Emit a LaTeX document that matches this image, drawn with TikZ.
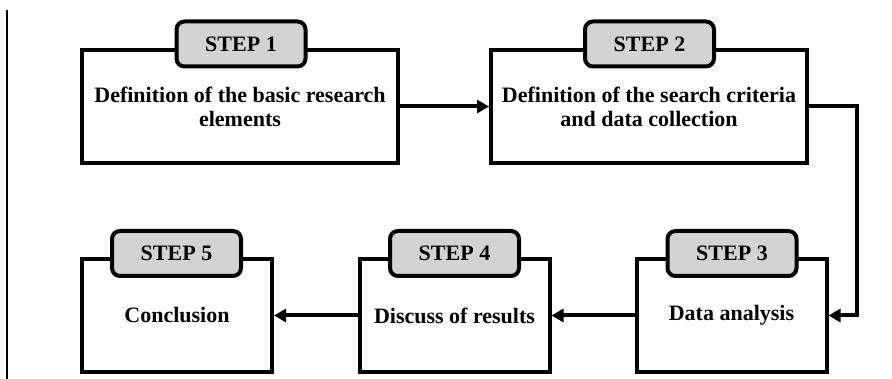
\documentclass[tikz,border=0pt]{standalone}
\usepackage{fontspec}
\setmainfont{Liberation Serif}
\usetikzlibrary{arrows.meta}
\definecolor{tabgray}{HTML}{D3D3D3}
\begin{document}
\begin{tikzpicture}[x=1pt,y=-1pt,
  stepbox/.style={draw=black, line width=4pt, fill=white, inner sep=0pt,
    minimum height=113pt, align=center,
    font=\fontsize{22}{24}\selectfont\bfseries},
  steptab/.style={draw=black, line width=4pt, fill=tabgray, rounded corners=8pt,
    inner sep=0pt, minimum width=129pt, minimum height=45pt,
    font=\fontsize{22}{24}\selectfont\bfseries},
  flow/.style={line width=4pt, -{Triangle[length=12pt,width=13pt]}}]
\useasboundingbox (0,0) rectangle (892,379);
\coordinate (vtop) at (7,10);
\coordinate (vbot) at (7,379);
\draw[line width=1.5pt] (vtop) -- (vbot);
% boxes
\node[stepbox, minimum width=316pt] (b1) at (240,106.5) {Definition of the basic research\\elements};
\node[stepbox, minimum width=316pt] (b2) at (649,106.5) {Definition of the search criteria\\and data collection};
\node[stepbox, minimum width=190pt] (b3) at (731.5,315.5) {Data analysis};
\node[stepbox, minimum width=190pt] (b4) at (454.5,315.5) {Discuss of results};
\node[stepbox, minimum width=190pt] (b5) at (177,315.5) {Conclusion};
% tabs
\node[steptab] (t1) at (241,44) {STEP 1};
\node[steptab] (t2) at (649.5,44) {STEP 2};
\node[steptab] (t3) at (732,253.5) {STEP 3};
\node[steptab] (t4) at (454.5,253.5) {STEP 4};
\node[steptab] (t5) at (176.5,253.5) {STEP 5};
% connectors
\draw[flow] (b1.east) -- (b2.west);
\draw[flow] (b2.east) -- ++(48,0) |- (b3.east);
\draw[flow] (b3.west) -- (b4.east);
\draw[flow] (b4.west) -- (b5.east);
\end{tikzpicture}
\end{document}
